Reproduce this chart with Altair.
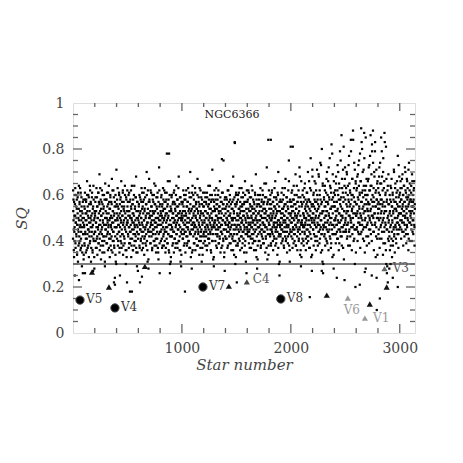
import altair as alt
import pandas as pd

# ---- dense field of stars: SQ values (in hundredths), one string per block of 100 star numbers ----
rows = [
    "62 58 45 33 51 40 56 63 37 48 60 42 54 35 47 59 31 50 44 64 39 57 46 53 36 61 41 49 55 29 38 52 26 43 58 34",
    "47 55 38 61 43 52 35 58 49 41 66 53 37 45 60 50 33 56 44 39 62 48 57 31 51 42 59 46 36 54 27 64 40 49 28 53",
    "52 44 59 37 48 63 41 55 34 50 46 61 39 57 43 69 36 53 47 58 32 51 45 62 40 56 49 38 54 42 60 35 47 29 65 50",
    "45 58 39 52 61 43 49 36 56 47 64 41 54 33 50 59 38 46 57 42 67 48 35 53 44 62 40 51 37 55 24 49 60 31 46 71",
    "56 41 50 63 38 47 54 44 60 35 52 46 58 40 49 66 37 55 43 51 61 34 48 57 42 53 39 64 45 50 30 59 36 47 22 62",
    "49 57 42 53 37 61 46 51 39 58 44 55 33 50 64 41 48 56 36 52 45 60 38 47 54 43 59 40 68 35 50 29 57 46 27 53",
    "43 55 48 60 37 52 45 58 41 50 63 36 54 47 39 57 44 61 49 34 53 42 59 46 51 38 56 70 40 48 31 62 45 28 52 67",
    "58 44 51 39 62 47 55 42 49 36 60 53 45 57 40 52 65 38 48 56 43 50 35 59 46 54 41 61 37 50 32 47 72 55 26 44",
    "47 53 40 59 45 51 37 56 48 63 42 54 38 50 57 44 61 35 52 46 58 41 49 55 39 66 43 51 36 78 47 60 30 53 45 33",
    "54 42 60 46 38 52 57 44 50 35 62 48 41 56 53 39 47 64 43 51 58 37 49 55 45 68 40 52 36 59 46 31 50 29 57 43",
    "49 56 41 53 62 45 38 51 58 44 47 35 60 52 42 55 48 39 57 46 63 40 50 54 37 59 43 70 49 33 53 45 28 61 47 36",
    "45 60 52 39 48 55 43 63 36 51 57 46 41 54 49 67 38 53 44 59 47 34 56 50 42 62 40 52 45 31 58 37 48 21 55 43",
    "55 42 49 61 46 38 53 57 44 50 36 59 47 52 41 64 45 56 39 51 48 60 43 54 35 58 46 50 71 40 53 32 47 29 57 62",
    "48 54 40 58 45 63 51 37 56 43 49 60 46 53 39 55 42 66 50 35 57 47 44 52 61 38 49 56 41 75 45 33 54 27 59 48",
    "52 45 59 41 50 56 37 53 47 62 44 48 55 39 51 58 43 46 64 36 54 49 57 42 50 68 40 53 34 47 83 56 30 45 60 38",
    "46 57 43 51 38 60 49 54 41 47 63 52 36 55 45 50 59 42 48 56 39 53 61 44 51 35 57 46 66 40 49 31 54 26 62 43",
    "57 44 50 62 47 39 53 45 59 42 55 48 37 51 64 46 54 41 49 58 43 52 36 56 47 61 40 50 69 45 33 55 28 48 38 60",
    "43 52 58 46 40 55 49 63 37 51 45 57 42 53 48 60 39 56 44 50 65 47 54 35 52 41 59 46 72 49 32 57 43 84 38 62",
    "51 47 56 42 60 49 38 54 45 62 50 43 57 36 52 47 59 41 55 48 66 44 51 39 58 46 53 34 61 49 70 42 30 55 25 47",
    "46 58 43 52 39 57 50 45 63 41 54 48 60 37 51 56 44 49 67 40 53 46 59 35 50 55 42 62 47 75 38 52 31 57 44 81",
    "55 42 61 48 53 37 58 45 50 64 43 56 40 52 47 69 38 54 46 60 51 36 57 44 49 62 41 53 72 45 34 59 48 29 66 39",
    "48 56 41 62 46 52 38 59 50 44 65 47 55 36 53 49 61 42 57 45 70 40 51 58 37 54 47 63 43 76 50 33 56 27 48 68",
    "52 45 60 38 55 48 66 42 57 50 36 62 46 53 71 40 58 47 54 44 68 51 39 60 45 74 49 35 56 43 80 52 31 64 26 47",
    "47 59 42 55 64 38 51 46 61 53 40 70 48 57 44 66 36 52 59 45 76 50 41 63 54 39 82 47 58 33 69 43 55 28 61 49",
    "55 43 62 50 39 68 47 57 44 53 73 41 60 48 36 65 52 45 79 58 42 55 49 86 38 63 51 46 71 44 59 32 53 23 67 48",
    "49 61 44 56 70 41 53 47 64 38 58 51 77 45 55 62 42 50 84 48 60 36 54 67 46 88 52 40 59 74 45 30 57 20 65 51",
    "56 45 63 52 40 69 48 58 43 75 54 61 47 37 66 51 89 44 57 80 49 62 41 55 71 46 87 53 35 60 50 28 64 42 56 47",
    "47 60 53 42 67 56 39 73 50 62 45 86 54 48 64 40 79 57 51 88 44 59 36 70 52 47 83 55 33 62 46 24 58 41 66 50",
    "54 43 61 49 72 37 56 65 46 52 85 41 58 68 48 55 34 76 50 63 44 87 53 39 60 47 81 30 57 26 45 62 22 51 69 40",
    "44 28 52 36 58 30 47 63 41 55 33 49 60 38 53 45 71 42 57 35 50 65 46 54 39 61 48 56 43 77 51 37 59 45 68 52",
    "57 46 63 52 41 58 49 67 44 55 60 38 53 48 64 42 57 51 70 45 61 39 54 47 66 50 43 59 36 56 74 48 62 40 53 58",
    "52 61 45 57 40 66 49 55 43 58 63 47 38 54",
]
rows_b = [
    "41 53 49 36 57 44 46 60 51 39 48 55 43 50 58 34 47 52 45 61 38 54 49 42 56 40 63 47 51 37 44 59 53 46 35 50 57 48 43 32",
    "50 46 39 54 58 44 49 41 57 52 36 47 60 43 55 51 38 45 59 48 42 53 64 40 50 46 56 37 49 44 61 52 35 47 55 41 58 43 33 50",
    "44 51 57 40 48 53 46 37 59 42 55 50 45 61 39 52 47 56 41 49 63 44 38 54 51 57 43 46 35 60 48 52 42 55 47 40 58 31 50 45",
    "53 47 42 58 50 39 55 48 44 61 46 52 37 57 49 43 54 60 41 47 51 36 56 45 50 62 40 53 48 44 59 38 52 46 57 42 34 49 55 30",
    "46 52 58 43 49 55 40 51 47 61 44 37 56 50 42 59 48 53 39 45 57 51 43 62 47 38 54 49 55 41 46 60 52 36 50 44 58 33 48 53",
    "55 48 43 51 60 46 39 53 57 44 50 41 47 62 54 38 49 45 56 52 36 58 43 48 51 64 40 46 55 49 42 59 37 53 47 44 57 35 50 41",
    "49 43 56 51 38 47 59 45 53 40 50 57 44 48 61 42 55 37 52 46 58 49 41 54 63 45 39 50 56 43 47 60 52 36 48 54 44 32 57 50",
    "42 57 50 46 53 39 48 61 44 55 51 37 47 58 43 52 45 60 49 40 56 46 53 64 41 48 38 55 50 44 59 47 52 35 57 43 49 62 39 51",
    "56 49 44 52 47 60 41 55 50 38 53 46 58 43 49 62 45 40 54 51 57 37 48 44 61 52 46 39 56 50 43 58 47 35 53 66 42 49 55 31",
    "47 53 59 42 50 45 56 39 52 48 61 44 57 41 49 54 37 46 60 51 43 55 48 39 58 45 52 63 40 50 47 56 42 53 36 59 44 49 34 51",
    "52 45 50 57 41 48 55 43 60 47 39 53 49 58 44 51 62 46 38 55 42 50 57 45 53 40 48 61 52 44 37 56 49 43 59 47 54 35 50 64",
    "48 55 42 51 58 46 39 53 47 61 44 50 56 41 54 38 49 60 45 52 43 57 48 40 55 63 46 51 37 53 44 59 49 42 56 47 34 52 61 39",
    "51 44 57 48 40 53 59 45 50 42 56 47 61 38 52 46 55 43 49 58 41 54 50 64 44 47 36 57 52 45 60 40 49 53 43 58 46 33 55 48",
    "46 53 49 60 43 51 38 56 47 54 42 58 50 45 62 39 52 48 55 41 46 59 53 44 50 37 57 47 43 54 61 49 40 56 45 51 35 58 48 42",
    "54 47 41 55 50 58 44 49 62 38 53 46 51 57 42 48 60 45 52 39 56 43 50 47 64 41 54 49 36 58 45 52 43 59 47 50 40 55 33 61",
    "49 56 43 52 47 39 58 45 51 61 44 54 40 50 57 46 53 42 48 63 37 55 49 44 59 51 41 47 56 53 45 38 60 50 43 57 48 35 52 46",
    "45 51 58 42 54 48 61 44 50 37 56 47 53 41 59 46 50 43 55 62 39 48 52 45 57 40 54 49 44 60 47 53 36 51 58 42 49 56 32 46",
    "52 46 40 56 49 53 44 60 47 51 38 55 43 58 50 45 62 41 48 54 47 39 57 52 44 59 46 50 42 65 53 37 49 56 45 51 43 58 34 48",
    "47 54 50 43 58 45 52 39 56 49 61 44 51 46 40 57 53 48 42 55 63 46 50 38 54 45 59 41 52 48 56 44 47 60 37 53 49 43 57 31",
    "53 48 42 57 50 45 61 47 54 40 52 58 44 49 38 55 51 46 63 42 48 56 53 41 59 47 44 50 57 39 54 46 52 66 43 49 36 58 45 51",
    "48 52 57 44 50 62 41 55 46 53 39 58 49 45 60 43 51 56 47 38 54 50 64 42 57 48 45 52 59 40 49 55 46 68 43 51 36 57 47 33",
    "55 49 44 60 47 52 40 57 51 46 63 43 54 48 58 41 50 56 45 39 61 52 47 55 42 58 49 66 44 51 37 57 53 46 62 41 49 55 34 71",
    "50 56 45 52 61 43 49 58 47 54 40 65 51 46 57 42 53 60 48 38 56 50 69 44 55 47 62 41 52 58 46 73 49 43 57 36 53 65 45 30",
    "53 46 58 50 43 62 48 55 41 57 51 67 45 53 39 60 49 56 44 72 51 47 58 42 64 54 48 37 61 50 55 45 78 43 52 59 47 34 66 57",
    "46 55 60 49 53 43 65 51 57 47 41 62 54 49 70 45 58 52 39 63 48 56 44 75 51 59 46 42 67 54 50 61 37 57 81 47 53 64 44 72",
    "58 50 45 63 52 47 69 55 42 60 53 48 73 57 44 65 51 38 61 56 49 79 46 58 53 67 43 60 50 84 55 47 63 41 57 71 52 45 66 35",
    "51 62 56 46 68 53 59 44 73 50 64 55 48 60 78 52 43 66 57 50 83 61 47 54 70 45 59 52 64 40 76 56 49 62 53 85 46 58 67 38",
    "60 54 48 66 57 51 72 45 62 56 49 77 53 64 43 58 69 51 82 47 60 55 74 50 63 44 57 68 52 79 48 61 55 42 71 58 50 65 34 56",
    "52 63 57 45 68 54 41 60 74 50 58 47 65 53 79 44 56 62 49 70 39 57 52 66 46 83 55 48 61 36 53 67 45 58 29 50 64 41 56 48",
    "49 56 42 60 53 46 64 38 57 51 67 44 55 48 61 40 52 58 46 70 43 54 50 63 47 57 41 59 53 45 66 50 62 48 55 43 73 52 47 60",
    "55 61 49 66 52 58 45 63 54 48 69 56 51 60 44 64 53 57 47 72 50 62 55 43 59 52 67 46 58 63 49 55 71 41 60 53 57 65 48 51",
    "58 50 64 47 55 69 53 44 60 57 49 62 52 66 46 56",
]
row_span = [100] * 31 + [40]

# ---- scattered stars below the SQ = 0.3 cut and isolated high points ----
extra_star = [18, 55, 110, 376, 385, 431, 523, 541, 615, 633, 890, 1028, 1504, 2174,
              2284, 2422, 2633, 2679, 2743, 2789, 2817, 2936, 2982, 862, 1367, 1486, 1816, 2018]
extra_sq = [0.25, 0.23, 0.26, 0.22, 0.21, 0.25, 0.18, 0.18, 0.22, 0.245, 0.26, 0.18, 0.22, 0.156,
            0.27, 0.24, 0.21, 0.265, 0.25, 0.10, 0.15, 0.24, 0.20, 0.78, 0.756, 0.826, 0.84, 0.81]

# ---- variable stars (circles) ----
circ_star = [64, 385, 1193, 1908]
circ_sq = [0.143, 0.109, 0.200, 0.148]

# ---- triangles ----
tri_star = [174, 330, 660, 1431, 1596, 2330, 2725, 2880, 2523, 2680, 2860]
tri_sq = [0.265, 0.200, 0.290, 0.204, 0.222, 0.165, 0.126, 0.200, 0.152, 0.065, 0.280]
tri_col = ["#111", "#111", "#111", "#111", "#444", "#111", "#111", "#111", "#999", "#999", "#666"]

# ---- labels ----
lab_text = ["V5", "V4", "V7", "V8", "C4", "V6", "V1", "V3"]
lab_star = [64, 385, 1193, 1908, 1596, 2430, 2700, 2880]
lab_sq = [0.148, 0.114, 0.205, 0.153, 0.235, 0.100, 0.065, 0.282]
lab_col = ["#333", "#333", "#333", "#333", "#555", "#999", "#999", "#555"]

title_text = "NGC6366"
title_star, title_sq = 1460, 0.948

cut_sq = 0.3

x_major = [1000, 2000, 3000]
x_minor = [200, 400, 600, 800, 1200, 1400, 1600, 1800, 2200, 2400, 2600, 2800]
y_major = [0.2, 0.4, 0.6, 0.8]
y_minor = [0.05, 0.1, 0.15, 0.25, 0.3, 0.35, 0.45, 0.5, 0.55, 0.65, 0.7, 0.75, 0.85, 0.9, 0.95]

# ---- build tables ----
pts = []
for set_rows, shift in ((rows, 0.5), (rows_b, 0.0)):
    for i, (r, span) in enumerate(zip(set_rows, row_span)):
        vals = [int(v) / 100 for v in r.split()]
        n = len(vals)
        for k, v in enumerate(vals):
            pts.append({"star": i * 100 + (k + shift) * span / n, "sq": v})
for s, q in zip(extra_star, extra_sq):
    pts.append({"star": s, "sq": q})
df_pts = pd.DataFrame(pts)
df_circ = pd.DataFrame({"star": circ_star, "sq": circ_sq})
df_tri = pd.DataFrame({"star": tri_star, "sq": tri_sq, "col": tri_col})
df_lab = pd.DataFrame({"star": lab_star, "sq": lab_sq, "txt": lab_text, "col": lab_col})
df_title = pd.DataFrame({"star": [title_star], "sq": [title_sq], "txt": [title_text]})
df_cut = pd.DataFrame({"sq": [cut_sq]})
df_xM = pd.DataFrame({"star": x_major})
df_xm = pd.DataFrame({"star": x_minor})
df_yM = pd.DataFrame({"sq": y_major})
df_ym = pd.DataFrame({"sq": y_minor})

W, H = 342, 230
FONT = "DejaVu Serif"
AX = "#444"

X = alt.X("star:Q", scale=alt.Scale(domain=[0, 3140], nice=False, zero=False),
          axis=alt.Axis(values=x_major, labelExpr="format(datum.value, 'd')", domain=False, ticks=False,
                        grid=False, labelFont=FONT, labelFontSize=14, labelColor=AX, labelPadding=8,
                        title="Star number", titleFont=FONT, titleFontStyle="italic", titleFontWeight="normal",
                        titleFontSize=15, titleColor=AX, titlePadding=2))
Y = alt.Y("sq:Q", scale=alt.Scale(domain=[0, 1], nice=False, zero=False),
          axis=alt.Axis(values=[0, 0.2, 0.4, 0.6, 0.8, 1], labelExpr="format(datum.value, '~g')", domain=False,
                        ticks=False, grid=False, labelFont=FONT, labelFontSize=14, labelColor=AX, labelPadding=9,
                        title="SQ", titleFont=FONT, titleFontStyle="italic", titleFontWeight="normal",
                        titleFontSize=15, titleColor=AX, titlePadding=12))

dots = alt.Chart(df_pts).mark_square(size=5, color="black", opacity=1).encode(x=X, y=Y)
circles = alt.Chart(df_circ).mark_circle(size=70, color="black", opacity=1, stroke="#555", strokeWidth=1).encode(x=X, y=Y)
tris = alt.Chart(df_tri).mark_point(shape="triangle-up", filled=True, size=38, opacity=1).encode(
    x=X, y=Y, color=alt.Color("col:N", scale=None))
labels = alt.Chart(df_lab).mark_text(align="left", dx=6, font=FONT, fontSize=12).encode(
    x=X, y=Y, text="txt:N", color=alt.Color("col:N", scale=None))
title = alt.Chart(df_title).mark_text(font=FONT, fontSize=11, color="#222").encode(x=X, y=Y, text="txt:N")
cut = alt.Chart(df_cut).mark_rule(color="black", strokeWidth=1.2).encode(y=Y, x=alt.value(0), x2=alt.value(W))

TC = "#666"
tk = []
tk.append(alt.Chart(df_xM).mark_rule(color=TC, strokeWidth=1.3).encode(x=X, y=alt.value(H), y2=alt.value(H - 9)))
tk.append(alt.Chart(df_xm).mark_rule(color=TC, strokeWidth=1.3).encode(x=X, y=alt.value(H), y2=alt.value(H - 5)))
tk.append(alt.Chart(df_xM).mark_rule(color=TC, strokeWidth=1.3).encode(x=X, y=alt.value(0), y2=alt.value(8)))
tk.append(alt.Chart(df_xm).mark_rule(color=TC, strokeWidth=1.3).encode(x=X, y=alt.value(0), y2=alt.value(4)))
tk.append(alt.Chart(df_yM).mark_rule(color=TC, strokeWidth=1.3).encode(y=Y, x=alt.value(0), x2=alt.value(9)))
tk.append(alt.Chart(df_ym).mark_rule(color=TC, strokeWidth=1.3).encode(y=Y, x=alt.value(0), x2=alt.value(5)))
tk.append(alt.Chart(df_yM).mark_rule(color=TC, strokeWidth=1.3).encode(y=Y, x=alt.value(W - 9), x2=alt.value(W)))
tk.append(alt.Chart(df_ym).mark_rule(color=TC, strokeWidth=1.3).encode(y=Y, x=alt.value(W - 5), x2=alt.value(W)))

chart = alt.layer(dots, cut, *tk, tris, circles, labels, title).properties(
    width=W, height=H,
    padding={"left": 65, "top": 95, "right": 40, "bottom": 100},
    autosize=alt.AutoSizeParams(type="none"),
).configure_view(stroke="#777", strokeWidth=1.5).configure(background="white")

chart.save("out.html", embed_options={"renderer": "svg", "actions": False})
